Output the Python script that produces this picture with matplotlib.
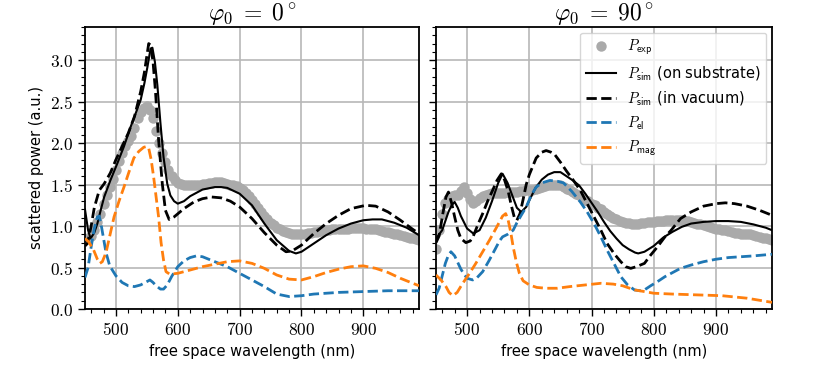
import matplotlib
matplotlib.use("Agg")
import matplotlib.pyplot as plt
from matplotlib.ticker import MultipleLocator, FuncFormatter

plt.rcParams['mathtext.fontset'] = 'cm'
plt.rcParams['font.family'] = 'DejaVu Sans'

# ---- phi0 = 0 deg ----
exp0_x = [455, 460, 465, 470, 475, 480, 485, 490, 495, 500, 505, 510, 515, 520, 525, 530, 535, 540, 545, 550,
          555, 560, 565, 570, 575, 580, 585, 590, 595, 600, 605, 610, 615, 620, 625, 630, 635, 640, 645, 650,
          655, 660, 665, 670, 675, 680, 685, 690, 695, 700, 705, 710, 715, 720, 725, 730, 735, 740, 745, 750,
          755, 760, 765, 770, 775, 780, 785, 790, 795, 800, 805, 810, 815, 820, 825, 830, 835, 840, 845, 850,
          855, 860, 865, 870, 875, 880, 885, 890, 895, 900, 905, 910, 915, 920, 925, 930, 935, 940, 945, 950,
          955, 960, 965, 970, 975, 980, 985, 990]
exp0_y = [0.86, 0.88, 0.95, 1.05, 1.15, 1.27, 1.37, 1.47, 1.57, 1.67, 1.78, 1.88, 1.97, 2.03, 2.08, 2.18, 2.30, 2.37, 2.42, 2.45,
          2.40, 2.30, 2.15, 2.00, 1.88, 1.77, 1.68, 1.60, 1.55, 1.52, 1.51, 1.50, 1.50, 1.49, 1.49, 1.50, 1.50, 1.51, 1.51, 1.52,
          1.52, 1.53, 1.53, 1.53, 1.52, 1.51, 1.50, 1.49, 1.48, 1.46, 1.43, 1.40, 1.36, 1.32, 1.27, 1.22, 1.17, 1.12, 1.08, 1.04,
          1.01, 0.98, 0.96, 0.94, 0.93, 0.92, 0.91, 0.91, 0.91, 0.91, 0.91, 0.92, 0.92, 0.93, 0.93, 0.94, 0.94, 0.95, 0.95, 0.96,
          0.96, 0.97, 0.97, 0.97, 0.97, 0.98, 0.98, 0.98, 0.98, 0.98, 0.97, 0.97, 0.96, 0.96, 0.95, 0.94, 0.93, 0.93, 0.92, 0.91,
          0.90, 0.89, 0.88, 0.87, 0.86, 0.85, 0.84, 0.83]

sub0_x = [450, 455, 459, 465, 470, 475, 481, 491, 502, 513, 524, 534, 540, 546, 551, 556, 559, 563, 567, 572,
          577, 583, 588, 594, 600, 610, 620, 640, 660, 670, 680, 700, 720, 740, 760, 780, 791, 800, 820, 840,
          860, 880, 900, 915, 930, 950, 970, 990]
sub0_y = [1.20, 0.95, 0.85, 0.92, 1.03, 1.18, 1.35, 1.55, 1.75, 1.96, 2.20, 2.40, 2.52, 2.72, 2.92, 3.14, 3.15, 2.98, 2.70, 2.24,
          1.83, 1.51, 1.37, 1.30, 1.27, 1.30, 1.36, 1.44, 1.47, 1.47, 1.46, 1.39, 1.25, 1.03, 0.83, 0.70, 0.67, 0.69, 0.79, 0.89,
          0.97, 1.03, 1.07, 1.08, 1.08, 1.04, 0.98, 0.89]

vac0_x = [450, 454, 460, 465, 473, 481, 491, 500, 510, 520, 530, 540, 546, 550, 553, 556, 560, 564, 569, 575,
          580, 586, 594, 610, 626, 640, 655, 670, 685, 700, 720, 740, 760, 775, 785, 800, 820, 840, 860, 880,
          904, 920, 940, 960, 980, 990]
vac0_y = [0.76, 0.79, 1.00, 1.22, 1.43, 1.51, 1.64, 1.80, 1.96, 2.12, 2.32, 2.62, 2.85, 3.05, 3.20, 3.18, 2.98, 2.62, 2.04, 1.51,
          1.19, 1.08, 1.11, 1.21, 1.29, 1.33, 1.35, 1.34, 1.30, 1.23, 1.09, 0.92, 0.77, 0.69, 0.70, 0.77, 0.91, 1.03, 1.13, 1.21,
          1.25, 1.24, 1.17, 1.07, 0.96, 0.91]

el0_x = [450, 455, 460, 465, 470, 473, 476, 480, 484, 490, 500, 510, 520, 530, 540, 550, 555, 560, 565, 572,
         577, 583, 590, 600, 610, 620, 630, 640, 660, 680, 700, 720, 740, 760, 780, 800, 820, 840, 860, 900,
         940, 990]
el0_y = [0.38, 0.50, 0.75, 0.97, 1.11, 1.12, 1.02, 0.85, 0.68, 0.52, 0.40, 0.32, 0.28, 0.27, 0.29, 0.33, 0.35, 0.32, 0.28, 0.24,
         0.24, 0.29, 0.39, 0.51, 0.58, 0.62, 0.64, 0.63, 0.57, 0.51, 0.43, 0.35, 0.27, 0.18, 0.15, 0.16, 0.18, 0.19, 0.20, 0.21,
         0.22, 0.22]

mag0_x = [450, 456, 464, 470, 474, 478, 484, 490, 497, 505, 513, 521, 529, 537, 545, 550, 553, 557, 561, 565,
          569, 573, 577, 581, 587, 600, 620, 640, 660, 680, 700, 720, 740, 760, 780, 800, 820, 840, 860, 880,
          900, 920, 940, 960, 980, 990]
mag0_y = [0.85, 0.81, 0.71, 0.60, 0.55, 0.57, 0.68, 0.88, 1.11, 1.30, 1.47, 1.65, 1.82, 1.90, 1.95, 1.96, 1.94, 1.80, 1.59, 1.35,
          1.11, 0.80, 0.59, 0.45, 0.42, 0.43, 0.47, 0.51, 0.54, 0.57, 0.58, 0.55, 0.49, 0.41, 0.36, 0.35, 0.39, 0.44, 0.48, 0.51,
          0.52, 0.49, 0.44, 0.37, 0.31, 0.28]

# ---- phi0 = 90 deg ----
exp90_x = [450, 455, 460, 465, 470, 475, 480, 485, 490, 495, 500, 505, 510, 515, 520, 525, 530, 535, 540, 545,
           550, 555, 560, 565, 570, 575, 580, 585, 590, 595, 600, 605, 610, 615, 620, 625, 630, 635, 640, 645,
           650, 655, 660, 665, 670, 675, 680, 685, 690, 695, 700, 705, 710, 715, 720, 725, 730, 735, 740, 745,
           750, 755, 760, 765, 770, 775, 780, 785, 790, 795, 800, 805, 810, 815, 820, 825, 830, 835, 840, 845,
           850, 855, 860, 865, 870, 875, 880, 885, 890, 895, 900, 905, 910, 915, 920, 925, 930, 935, 940, 945,
           950, 955, 960, 965, 970, 975, 980, 985, 990]
exp90_y = [0.72, 0.95, 1.15, 1.28, 1.33, 1.36, 1.37, 1.38, 1.42, 1.47, 1.40, 1.33, 1.28, 1.30, 1.34, 1.36, 1.38, 1.39, 1.40, 1.40,
           1.40, 1.40, 1.40, 1.41, 1.41, 1.41, 1.41, 1.42, 1.42, 1.43, 1.43, 1.44, 1.45, 1.46, 1.47, 1.48, 1.49, 1.50, 1.50, 1.50,
           1.49, 1.47, 1.45, 1.43, 1.41, 1.39, 1.37, 1.35, 1.32, 1.30, 1.27, 1.25, 1.22, 1.20, 1.17, 1.14, 1.12, 1.10, 1.08, 1.06,
           1.05, 1.04, 1.04, 1.03, 1.03, 1.03, 1.04, 1.04, 1.05, 1.05, 1.05, 1.06, 1.06, 1.06, 1.07, 1.07, 1.07, 1.07, 1.07, 1.07,
           1.06, 1.06, 1.05, 1.04, 1.03, 1.02, 1.01, 1.00, 0.99, 0.98, 0.97, 0.96, 0.95, 0.95, 0.94, 0.93, 0.92, 0.92, 0.91, 0.91,
           0.90, 0.90, 0.89, 0.88, 0.87, 0.86, 0.85, 0.84, 0.83]

sub90_x = [450, 460, 470, 475, 480, 485, 490, 500, 510, 520, 530, 540, 550, 557, 565, 575, 580, 587, 595, 600,
           610, 620, 630, 640, 650, 660, 670, 680, 690, 700, 710, 720, 730, 740, 750, 760, 770, 775, 785, 800,
           815, 830, 845, 860, 880, 900, 920, 940, 960, 980, 990]
sub90_y = [0.85, 0.95, 1.17, 1.25, 1.29, 1.22, 1.12, 0.97, 0.91, 0.95, 1.10, 1.30, 1.52, 1.63, 1.52, 1.32, 1.22, 1.17, 1.23, 1.31,
           1.46, 1.56, 1.62, 1.65, 1.65, 1.60, 1.55, 1.49, 1.39, 1.28, 1.17, 1.05, 0.94, 0.85, 0.77, 0.72, 0.68, 0.67, 0.69, 0.76,
           0.86, 0.93, 0.99, 1.03, 1.05, 1.06, 1.06, 1.05, 1.02, 0.98, 0.95]

vac90_x = [450, 455, 461, 466, 470, 475, 480, 485, 490, 498, 505, 510, 518, 525, 533, 541, 548, 555, 560, 566,
           571, 576, 580, 585, 590, 595, 600, 611, 620, 627, 635, 640, 650, 660, 670, 682, 693, 704, 715, 725,
           737, 747, 755, 763, 772, 785, 795, 806, 818, 828, 843, 860, 880, 900, 915, 930, 950, 970, 990]
vac90_y = [0.80, 0.88, 1.15, 1.35, 1.41, 1.28, 1.11, 0.95, 0.85, 0.80, 0.82, 0.88, 1.03, 1.15, 1.30, 1.43, 1.55, 1.63, 1.56, 1.42,
           1.25, 1.10, 1.07, 1.15, 1.32, 1.50, 1.62, 1.82, 1.89, 1.91, 1.89, 1.87, 1.77, 1.66, 1.56, 1.43, 1.27, 1.11, 0.95, 0.79,
           0.66, 0.57, 0.51, 0.49, 0.51, 0.55, 0.65, 0.75, 0.87, 0.95, 1.09, 1.17, 1.24, 1.27, 1.28, 1.27, 1.24, 1.19, 1.13]

el90_x = [450, 455, 460, 465, 470, 474, 480, 485, 490, 495, 500, 509, 515, 525, 535, 545, 552, 557, 565, 574,
          580, 587, 595, 603, 611, 620, 633, 645, 655, 668, 682, 693, 704, 715, 725, 736, 747, 758, 769, 778,
          785, 795, 806, 818, 828, 843, 860, 880, 900, 920, 940, 960, 990]
el90_y = [0.17, 0.25, 0.40, 0.55, 0.65, 0.69, 0.64, 0.56, 0.48, 0.42, 0.37, 0.35, 0.37, 0.45, 0.58, 0.72, 0.82, 0.87, 0.90, 0.95,
          1.04, 1.13, 1.23, 1.37, 1.47, 1.52, 1.55, 1.54, 1.52, 1.42, 1.29, 1.17, 1.03, 0.87, 0.71, 0.55, 0.39, 0.29, 0.23, 0.22,
          0.23, 0.28, 0.33, 0.39, 0.43, 0.49, 0.53, 0.57, 0.60, 0.62, 0.63, 0.64, 0.66]

mag90_x = [450, 458, 466, 471, 477, 484, 493, 503, 514, 525, 536, 547, 557, 562, 566, 570, 574, 579, 584, 590,
           600, 612, 627, 645, 665, 690, 715, 735, 750, 769, 785, 800, 830, 870, 910, 950, 990]
mag90_y = [0.41, 0.35, 0.27, 0.20, 0.16, 0.20, 0.31, 0.42, 0.55, 0.69, 0.83, 0.98, 1.12, 1.15, 1.07, 0.93, 0.75, 0.57, 0.43, 0.34,
           0.29, 0.26, 0.25, 0.25, 0.27, 0.29, 0.31, 0.30, 0.28, 0.23, 0.21, 0.19, 0.18, 0.17, 0.16, 0.13, 0.08]

titles = [r'$\varphi_0\;=\;0^\circ$', r'$\varphi_0\;=\;90^\circ$']
panels = [
    (exp0_x, exp0_y, sub0_x, sub0_y, vac0_x, vac0_y, el0_x, el0_y, mag0_x, mag0_y),
    (exp90_x, exp90_y, sub90_x, sub90_y, vac90_x, vac90_y, el90_x, el90_y, mag90_x, mag90_y),
]

fig = plt.figure(figsize=(8.3, 3.86), dpi=100)
ax1 = fig.add_axes([0.1024, 0.1995, 0.4024, 0.7306])
ax2 = fig.add_axes([0.5253, 0.1995, 0.4048, 0.7306], sharey=ax1)

for ax, title, d in zip([ax1, ax2], titles, panels):
    ex, ey, sx, sy, vx, vy, elx, ely, mx, my = d
    ax.plot(ex, ey, 'o', color='#aaaaaa', ms=7.5, mec='none', label=r'$P_\mathsf{exp}$', zorder=2)
    ax.plot(sx, sy, '-', color='black', lw=1.5, label=r'$P_\mathsf{sim}$ (on substrate)', zorder=3)
    ax.plot(vx, vy, '--', color='black', lw=2, label=r'$P_\mathsf{sim}$ (in vacuum)', zorder=3)
    ax.plot(elx, ely, '--', color='#1f77b4', lw=2, label=r'$P_\mathsf{el}$', zorder=3)
    ax.plot(mx, my, '--', color='#ff7f0e', lw=2, label=r'$P_\mathsf{mag}$', zorder=3)

    ax.set_xlim(450, 990)
    ax.set_ylim(0, 3.4)
    ax.set_title(title, fontsize=17, pad=3)
    ax.set_xlabel('free space wavelength (nm)', fontsize=10.5)
    ax.xaxis.set_major_locator(MultipleLocator(100))
    ax.xaxis.set_minor_locator(MultipleLocator(20))
    ax.yaxis.set_major_locator(MultipleLocator(0.5))
    ax.yaxis.set_minor_locator(MultipleLocator(0.1))
    ax.xaxis.set_major_formatter(FuncFormatter(lambda v, p: r'$%d$' % v))
    ax.grid(True, which='major', color='#b8b8b8', lw=1.2)
    ax.set_axisbelow(True)
    ax.tick_params(which='major', direction='out', length=5, width=1, labelsize=12.5)
    ax.tick_params(which='minor', direction='out', length=3, width=0.8)
    for s in ax.spines.values():
        s.set_linewidth(1.3)

ax1.yaxis.set_major_formatter(FuncFormatter(lambda v, p: r'$%.1f$' % v))
ax1.set_ylabel('scattered power (a.u.)', fontsize=10.5)
ax2.tick_params(labelleft=False)

leg = ax2.legend(loc='upper right', fontsize=10, framealpha=0.8, edgecolor='#cccccc',
                 handlelength=2.2, borderaxespad=0.4)
for t in leg.get_texts():
    t.set_fontsize(10.5)

fig.savefig('out.png', dpi=100)
